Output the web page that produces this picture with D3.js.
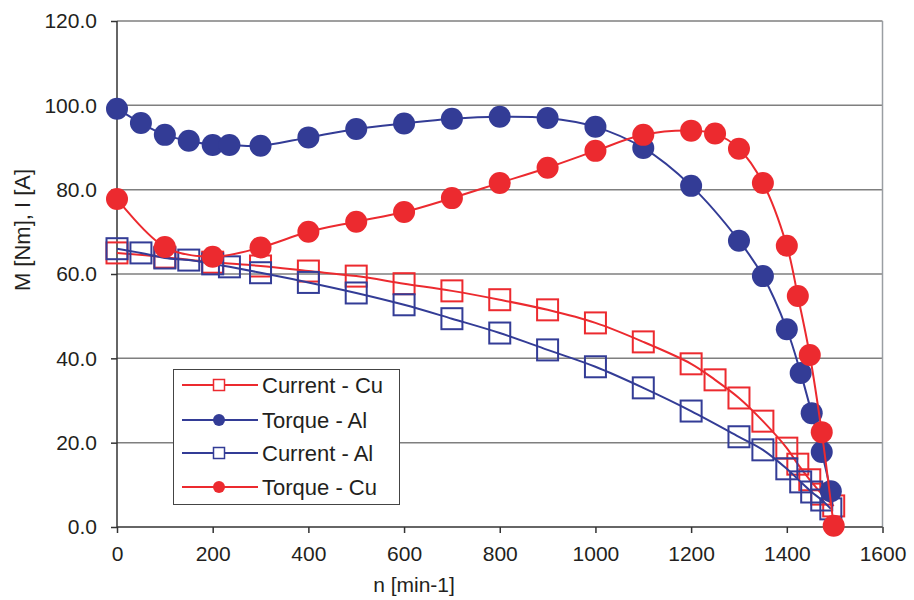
<!DOCTYPE html>
<html>
<head>
<meta charset="utf-8">
<script src="https://cdn.jsdelivr.net/npm/d3@7.9.0/dist/d3.min.js"></script>
<style>
  html, body { margin: 0; padding: 0; background: #fff; }
  svg { display: block; font-family: "Liberation Sans", Arial, sans-serif; }
</style>
</head>
<body>
<svg id="chart" width="914" height="600"></svg>
<script>
// speeds (min-1) for the two rotor materials
const speedAl = [0, 50, 100, 150, 200, 235, 300, 400, 500, 600, 700, 800, 900, 1000, 1100, 1200, 1300, 1350, 1400, 1429, 1452, 1473, 1492];
const speedCu = [0, 100, 200, 300, 400, 500, 600, 700, 800, 900, 1000, 1100, 1200, 1250, 1300, 1350, 1400, 1423, 1448, 1473, 1498];

const torqueAl = [99.2, 95.8, 93.0, 91.6, 90.6, 90.6, 90.4, 92.4, 94.4, 95.7, 96.8, 97.3, 97.0, 94.9, 89.9, 80.9, 67.9, 59.5, 46.9, 36.5, 27.0, 17.8, 8.5];
const currentAl = [66.0, 65.0, 63.8, 63.3, 62.4, 61.7, 60.3, 58.0, 55.5, 52.7, 49.4, 46.0, 42.0, 38.0, 33.0, 27.5, 21.4, 18.3, 13.8, 10.7, 8.3, 6.4, 4.3];
const torqueCu = [77.8, 66.4, 64.1, 66.3, 70.0, 72.4, 74.7, 78.0, 81.6, 85.2, 89.2, 93.0, 94.0, 93.3, 89.7, 81.6, 66.7, 54.8, 40.8, 22.5, 0.3];
const currentCu = [65.0, 64.0, 62.8, 61.9, 60.7, 59.5, 57.7, 56.0, 53.9, 51.5, 48.4, 43.9, 38.7, 34.9, 30.6, 25.1, 18.7, 14.9, 11.2, 7.8, 5.0];

const xTicks = [0, 200, 400, 600, 800, 1000, 1200, 1400, 1600];
const yTicks = [0, 20, 40, 60, 80, 100, 120];

const RED = '#ec2a2f';
const BLUE = '#333c96';

const svg = d3.select('#chart');
const plotLeft = 117, plotRight = 882.5, plotTop = 21, plotBottom = 527;

const x = d3.scaleLinear().domain([0, 1600]).range([plotLeft, plotRight]);
const y = d3.scaleLinear().domain([0, 120]).range([plotBottom, plotTop]);

// gridlines
svg.append('g')
  .selectAll('line')
  .data(yTicks.filter((d) => d > 0))
  .join('line')
  .attr('x1', plotLeft).attr('x2', plotRight)
  .attr('y1', (d) => y(d)).attr('y2', (d) => y(d))
  .attr('stroke', '#7f7f7f')
  .attr('stroke-width', 1.5);

// right border of plot area
svg.append('line')
  .attr('x1', plotRight).attr('x2', plotRight)
  .attr('y1', plotTop).attr('y2', plotBottom)
  .attr('stroke', '#9a9ea3')
  .attr('stroke-width', 1.5);

// axes
let yAxis = svg.append('g')
  .attr('transform', `translate(${plotLeft},0)`)
  .call(d3.axisLeft(y).tickValues(yTicks).tickFormat(d3.format('.1f')).tickSize(6).tickPadding(14));

let xAxis = svg.append('g')
  .attr('transform', `translate(0,${plotBottom})`)
  .call(d3.axisBottom(x).tickValues(xTicks).tickFormat(d3.format('d')).tickSize(6).tickPadding(13));

[yAxis, xAxis].forEach((ax) => {
  ax.select('.domain').attr('stroke', '#333').attr('stroke-width', 1.5);
  ax.selectAll('.tick line').attr('stroke', '#333').attr('stroke-width', 1.5);
  ax.selectAll('.tick text')
    .attr('fill', '#231f20')
    .style('font-family', '"Liberation Sans", Arial, sans-serif')
    .style('font-size', '21px');
});
yAxis.select('.domain').attr('d', `M0,${plotBottom}V${plotTop}`);
xAxis.select('.domain').attr('d', `M${plotLeft},0H${plotRight}`);

// axis titles
svg.append('text')
  .attr('x', 414)
  .attr('y', 592)
  .attr('text-anchor', 'middle')
  .attr('fill', '#231f20')
  .style('font-size', '21px')
  .text('n [min-1]');

svg.append('text')
  .attr('transform', 'translate(30,230) rotate(-90)')
  .attr('text-anchor', 'middle')
  .attr('fill', '#231f20')
  .style('font-size', '22px')
  .text('M [Nm], I [A]');

const series = [
  { name: 'Current - Cu', n: speedCu, v: currentCu, color: RED, marker: 'square' },
  { name: 'Torque - Al', n: speedAl, v: torqueAl, color: BLUE, marker: 'circle' },
  { name: 'Current - Al', n: speedAl, v: currentAl, color: BLUE, marker: 'square' },
  { name: 'Torque - Cu', n: speedCu, v: torqueCu, color: RED, marker: 'circle' }
];

const line = d3.line()
  .x((d) => x(d[0]))
  .y((d) => y(d[1]))
  .curve(d3.curveCatmullRom.alpha(0.5));

// squares first, then filled circles on top
const drawOrder = [series[0], series[2], series[1], series[3]];

drawOrder.forEach((s) => {
  let pts = s.n.map((n, i) => [n, s.v[i]]);
  let g = svg.append('g');
  g.append('path')
    .attr('d', line(pts))
    .attr('fill', 'none')
    .attr('stroke', s.color)
    .attr('stroke-width', 2);

  if (s.marker === 'square') {
    g.selectAll('rect')
      .data(pts)
      .join('rect')
      .attr('x', (d) => x(d[0]) - 10.5)
      .attr('y', (d) => y(d[1]) - 10.5)
      .attr('width', 21)
      .attr('height', 21)
      .attr('fill', 'none')
      .attr('stroke', s.color)
      .attr('stroke-width', 2);
  } else {
    g.selectAll('circle')
      .data(pts)
      .join('circle')
      .attr('cx', (d) => x(d[0]))
      .attr('cy', (d) => y(d[1]))
      .attr('r', 11)
      .attr('fill', s.color);
  }
});

// legend
const legend = svg.append('g');
legend.append('rect')
  .attr('x', 173.5).attr('y', 369.5)
  .attr('width', 226).attr('height', 135)
  .attr('fill', '#fff')
  .attr('stroke', '#444')
  .attr('stroke-width', 1);

const rowY = [385, 420, 453, 487];

series.forEach((s, i) => {
  let row = legend.append('g').attr('transform', `translate(0,${rowY[i]})`);
  row.append('line')
    .attr('x1', 182).attr('x2', 258)
    .attr('stroke', s.color)
    .attr('stroke-width', 2);
  if (s.marker === 'square') {
    row.append('rect')
      .attr('x', 213.5).attr('y', -5.5)
      .attr('width', 11).attr('height', 11)
      .attr('fill', '#fff')
      .attr('stroke', s.color)
      .attr('stroke-width', 1.5);
  } else {
    row.append('circle')
      .attr('cx', 219).attr('r', 6)
      .attr('fill', s.color);
  }
  row.append('text')
    .attr('x', 262)
    .attr('y', 8)
    .attr('fill', '#231f20')
    .style('font-size', '22px')
    .text(s.name);
});
</script>
</body>
</html>
